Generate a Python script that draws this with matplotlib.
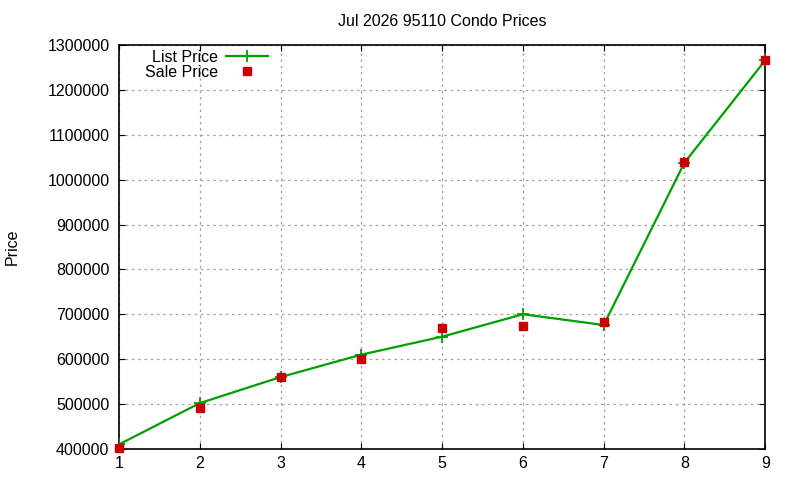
import matplotlib
matplotlib.use('Agg')
import matplotlib.pyplot as plt

# ======================== DATA ========================
months = [1, 2, 3, 4, 5, 6, 7, 8, 9]
list_price = [410000, 502000, 560000, 610000, 650000, 700000, 676000, 1038000, 1266000]
sale_price = [401000, 490000, 560000, 600000, 669000, 674000, 683000, 1040000, 1267000]
y_ticks = [400000, 500000, 600000, 700000, 800000, 900000, 1000000, 1100000, 1200000, 1300000]

plt.rcParams['font.family'] = ['Liberation Sans', 'DejaVu Sans']
FS = 11.5

fig = plt.figure(figsize=(8, 4.8), dpi=100)
ax = fig.add_axes([0.149, 0.065, 0.8075, 0.841])

ax.plot(months, list_price, color='#00a000', linewidth=1.6, marker='+',
        markersize=8, markeredgewidth=1.3, label='List Price', zorder=3)
ax.plot(months, sale_price, color='#cc0000', linestyle='none', marker='s',
        markersize=6, label='Sale Price', zorder=4, clip_on=False)

ax.set_xlim(1, 9)
ax.set_ylim(400000, 1300000)
ax.set_xticks(months)
ax.set_yticks(y_ticks)
ax.ticklabel_format(axis='y', style='plain', useOffset=False)
ax.tick_params(direction='in', top=True, right=True, labelsize=FS, length=4.5)
ax.tick_params(axis='x', pad=5)
ax.tick_params(axis='y', pad=7)
ax.grid(True, color='#a0a0a0', linestyle=(0, (2, 3)), linewidth=0.9)
for s in ax.spines.values():
    s.set_linewidth(1.2)

ax.set_title('Jul 2026 95110 Condo Prices', fontsize=FS, pad=14)
ax.set_ylabel('Price', fontsize=FS, labelpad=20)

ax.legend(loc='upper right', bbox_to_anchor=(268 / 800, 1 - 50 / 480),
          bbox_transform=fig.transFigure, frameon=False, fontsize=FS,
          markerfirst=False, handlelength=2.6, handletextpad=0.5,
          labelspacing=0.0, borderpad=0, borderaxespad=0)

fig.savefig('out.png', dpi=100)
